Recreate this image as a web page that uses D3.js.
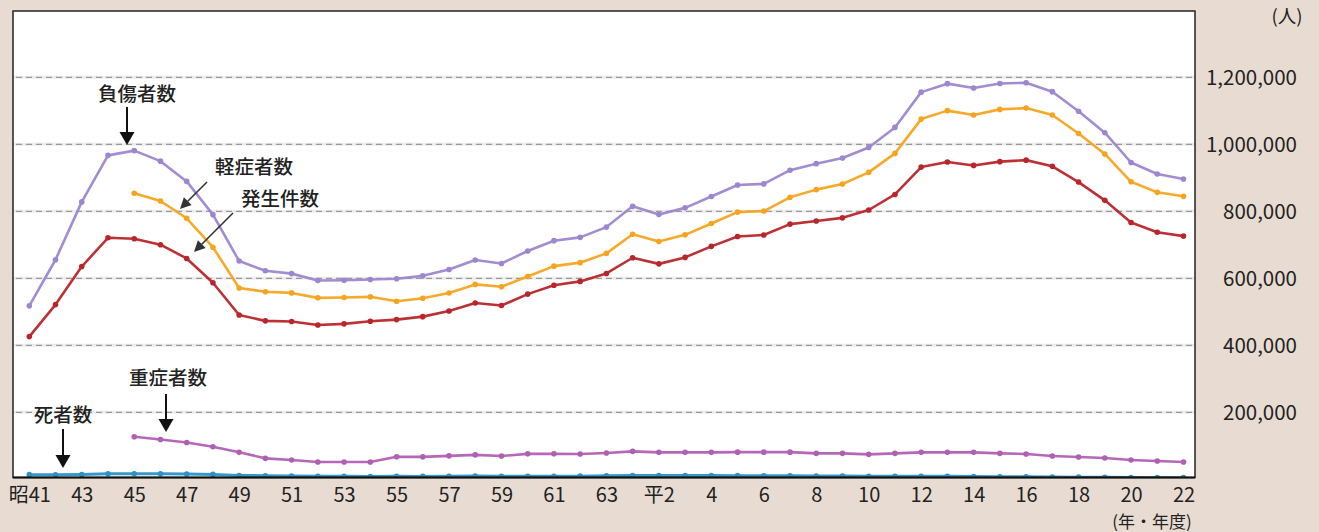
<!DOCTYPE html>
<html><head><meta charset="utf-8">
<script src="https://cdn.jsdelivr.net/npm/d3@7"></script>
<style>
html,body{margin:0;padding:0;background:#e8dcd2;}
svg{display:block;font-family:"Noto Sans CJK JP","Noto Sans",sans-serif;}
</style></head><body>
<svg id="c" width="1319" height="532"></svg>
<script>
const years = ["昭41","42","43","44","45","46","47","48","49","50","51","52","53","54","55","56","57","58","59","60","61","62","63","平元","平2","3","4","5","6","7","8","9","10","11","12","13","14","15","16","17","18","19","20","21","22"];
const injured = [517775,655377,828071,967000,981096,949689,889198,789948,651420,622467,613957,593211,594116,596282,598719,607346,626192,654822,644321,681346,712330,722179,752845,814832,790295,810245,844003,878633,881723,922677,942204,958925,990675,1050399,1155707,1181039,1168029,1181681,1183617,1157113,1098564,1034652,945703,911215,896297];
const minor = [null,null,null,null,854100,830700,779200,692900,570900,559900,556400,541600,542500,544700,531300,540300,556200,581800,574800,605300,636300,646700,674400,731300,709800,729700,763500,797600,800700,841700,864700,881400,916200,972900,1075200,1100500,1087500,1104200,1108100,1087600,1032100,971200,888100,856600,844700];
const incidents = [425944,521481,635056,720880,718080,700290,659283,586713,490452,472938,471041,460649,464037,471573,476677,485578,502261,526362,518642,552788,579190,590723,614481,661363,643097,662388,695346,724675,729461,761794,771085,780401,803882,850371,931950,947253,936950,948281,952720,934346,887257,832704,766394,737637,725924];
const serious = [null,null,null,null,127000,119000,110000,97000,80500,62600,57600,51600,51600,51600,67400,67000,70000,73000,69500,76000,76000,75500,78400,83500,80500,80500,80500,81000,81000,81000,77500,77500,74500,77500,80500,80500,80500,77500,75500,69500,66500,63500,57600,54600,51600];
const deaths = [13904,13618,14256,16257,16765,16278,15918,14574,11432,10792,9734,8945,8783,8466,8760,8719,9073,9520,9262,9261,9317,9347,10344,11086,11227,11109,11452,10945,10653,10684,9943,9642,9214,9012,9073,8757,8396,7768,7436,6937,6415,5796,5209,4979,4948];
const yTicks = [200000,400000,600000,800000,1000000,1200000];
const seriesNames = ["負傷者数","軽症者数","発生件数","重症者数","死者数"];
const seriesColors = ["#9d86d0","#f6a41f","#b8262b","#b060b3","#2b93c6"];

const svg = d3.select("#c");
const L=13, T=11, R=1195, B=477.5;
const x = d3.scaleLinear().domain([0, years.length-1]).range([29.3, 1183.5]);
const y = d3.scaleLinear().domain([0, 1400000]).range([479.3, 10.3]);

svg.append("rect").attr("x",L).attr("y",T).attr("width",R-L).attr("height",B-T).attr("fill","#fff");

// grid
const g = svg.append("g");
g.selectAll("line.band").data(yTicks).join("line")
  .attr("x1",L).attr("x2",R).attr("y1",d=>y(d)).attr("y2",d=>y(d))
  .attr("stroke","#ececec").attr("stroke-width",3);
g.selectAll("line.dash").data(yTicks).join("line")
  .attr("x1",L+3).attr("x2",R).attr("y1",d=>y(d)).attr("y2",d=>y(d))
  .attr("stroke","#9a9a9a").attr("stroke-width",1.2).attr("stroke-dasharray","6,4");

// series
const all = [injured, minor, incidents, serious, deaths];
const drawOrder = [4,3,2,1,0];
svg.append("clipPath").attr("id","pc").append("rect")
  .attr("x",L).attr("y",T).attr("width",R-L).attr("height",B-T);
const plot = svg.append("g").attr("clip-path","url(#pc)");
const line = d3.line().defined(d=>d!=null).x((d,i)=>x(i)).y(d=>y(d));
drawOrder.forEach(k=>{
  const data = all[k];
  plot.append("path").datum(data).attr("d",line)
    .attr("fill","none").attr("stroke",seriesColors[k]).attr("stroke-width",k===4?3:2.6)
    .attr("stroke-linejoin","round").attr("opacity",0.95);
  plot.selectAll(null).data(data.map((v,i)=>({v,i})).filter(d=>d.v!=null)).join("circle")
    .attr("cx",d=>x(d.i)).attr("cy",d=>y(d.v)).attr("r",2.8).attr("fill",seriesColors[k]);
});

// frame
svg.append("rect").attr("x",L).attr("y",T).attr("width",R-L).attr("height",B-T)
  .attr("fill","none").attr("stroke","#222").attr("stroke-width",1.5);
svg.append("line").attr("x1",L).attr("x2",R).attr("y1",B).attr("y2",B).attr("stroke","#111").attr("stroke-width",2.2);

// right axis
const ya = svg.append("g").attr("transform",`translate(${R},0)`)
  .call(d3.axisRight(y).tickValues(yTicks).tickFormat(d3.format(",")).tickSize(0));
ya.select(".domain").remove();
ya.selectAll("text").attr("x",102).attr("text-anchor","end").attr("dy","0.36em")
  .attr("font-size",20.5).attr("fill","#222").attr("font-family","'Noto Sans CJK JP',sans-serif");

// bottom axis
const xa = svg.append("g").attr("transform",`translate(0,${B})`)
  .call(d3.axisBottom(x).tickValues(d3.range(0,years.length,2)).tickFormat(i=>years[i]).tickSize(0));
xa.select(".domain").remove();
xa.selectAll("text").attr("y",0).attr("dy","24px")
  .attr("font-size",20).attr("fill","#222").attr("font-family","'Noto Sans CJK JP',sans-serif");

svg.append("text").attr("x",1152).attr("y",528).attr("text-anchor","middle")
  .attr("font-size",17).attr("fill","#222").text("(年・年度)");
svg.append("text").attr("x",1287).attr("y",23).attr("text-anchor","middle")
  .attr("font-size",18.5).attr("fill","#222").text("(人)");

// annotations
const ann = svg.append("g").attr("font-size",19.5).attr("fill","#222").attr("font-weight",500);
const labels = [
  {name:seriesNames[0], tx:137, ty:101},
  {name:seriesNames[1], tx:254, ty:174},
  {name:seriesNames[2], tx:280, ty:206},
  {name:seriesNames[3], tx:168, ty:385},
  {name:seriesNames[4], tx:63, ty:422}
];
labels.forEach(l=>ann.append("text").attr("x",l.tx).attr("y",l.ty).attr("text-anchor","middle").text(l.name));

function arrow(x1,y1,x2,y2,col,w,hl,hw){
  const a = Math.atan2(y2-y1,x2-x1);
  const bx = x2 - hl*Math.cos(a), by = y2 - hl*Math.sin(a);
  svg.append("line").attr("x1",x1).attr("y1",y1).attr("x2",bx).attr("y2",by)
    .attr("stroke",col).attr("stroke-width",w);
  const px = -Math.sin(a)*hw/2, py = Math.cos(a)*hw/2;
  svg.append("path").attr("d",`M${x2},${y2}L${bx+px},${by+py}L${bx-px},${by-py}Z`).attr("fill",col);
}
arrow(127,107,127,145,"#111",2,13,15);
arrow(207,182,180,209,"#333",1.6,11,11);
arrow(233,213,194,252,"#333",1.6,11,11);
arrow(166,394,166,432,"#111",2,13,15);
arrow(63,429,63,468,"#111",2,13,15);
</script>
</body></html>
